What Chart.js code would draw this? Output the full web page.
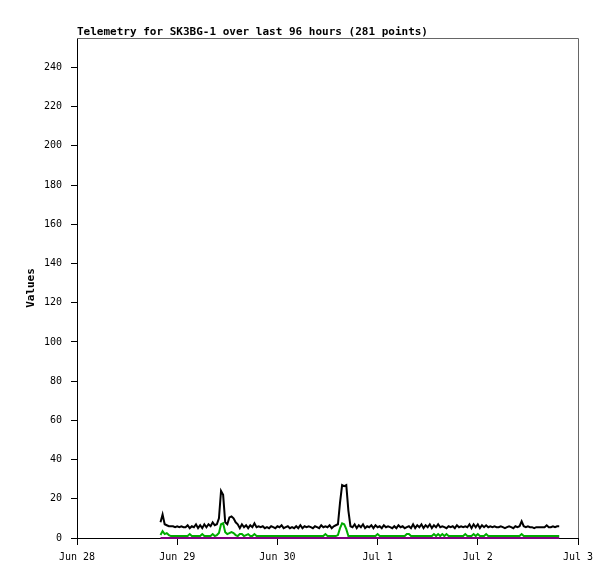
<!DOCTYPE html>
<html>
<head>
<meta charset="utf-8">
<script src="https://cdn.jsdelivr.net/npm/chart.js@4/dist/chart.umd.min.js"></script>
<style>
  html, body { margin: 0; padding: 0; background: #fff; }
  #wrap { width: 615px; height: 579px; }
</style>
</head>
<body>
<div id="wrap"><canvas id="telemetry" width="615" height="579"></canvas></div>
<script>
const chartTitle = 'Telemetry for SK3BG-1 over last 96 hours (281 points)'
const dayLabels = ['Jun 28', 'Jun 29', 'Jun 30', 'Jul 1', 'Jul 2', 'Jul 3']
const yTicks = { min: 0, max: 255, step: 20 }

// samples start at Jun 28 20:00, one every half hour
const startHour = 20
const stepHours = 0.5

const blackValues = [
  8, 12, 7, 6.5, 6, 6, 6, 5.5, 6, 5.5, 6, 5.5, 5.5, 6.5, 5, 6, 5.5, 7, 5, 6.5,
  5, 7, 5.5, 7, 6, 8, 6.5, 7, 10, 24, 22, 8, 7, 10.5, 11, 10, 8, 7, 5, 7,
  5.5, 6.5, 5, 6.5, 5.5, 7.5, 5.5, 6, 5.5, 6, 5, 5.5, 5, 6, 5.5, 5, 6, 5.5, 6.5, 5,
  5.5, 6, 5, 5.5, 5, 6, 5, 6.5, 5, 6, 5.5, 6, 5.5, 5, 6, 5.5, 5, 6.5, 5.5, 6,
  5.5, 6.5, 5, 6, 6.5, 7, 18, 27, 26.5, 27, 14, 6, 5.5, 7, 5, 6.5, 5.5, 7, 5, 6,
  5.5, 6.5, 5, 6.5, 5.5, 6, 5, 6.5, 5.5, 6, 5.5, 5, 6, 5, 6.5, 5.5, 6, 5, 5.5, 6,
  5, 7, 5, 6.5, 5.5, 7, 5, 6.5, 5.5, 7, 5, 6.5, 5.5, 7, 5.5, 6, 5.5, 5, 6, 5.5,
  6, 5, 6.5, 5.5, 6, 5.5, 6, 5.5, 7, 5, 7, 5.5, 7, 5, 6.5, 5.5, 6.5, 5.5, 6, 5.5,
  6, 5.5, 5.5, 6, 5.5, 5, 5.5, 6, 5.5, 5, 6, 5.5, 6, 8.5, 6, 5.5, 6, 5.5, 5.5, 5,
  5.5, 5.5, 5.5, 5.5, 5.5, 6.5, 5.5, 5.5, 6, 5.5, 6, 6
]

const greenValues = [
  1.5, 3.5, 2, 2.5, 1.5, 1, 1, 1, 1, 1, 1, 1, 1, 1, 2, 1, 1, 1, 1, 1,
  2, 1, 1, 1, 1, 2, 1, 1.5, 2.5, 7, 7.5, 3, 2, 2.5, 3, 2.5, 1.5, 1, 2, 2,
  1, 1.5, 2, 1, 1, 2, 1, 1, 1, 1, 1, 1, 1, 1, 1, 1, 1, 1, 1, 1,
  1, 1, 1, 1, 1, 1, 1, 1, 1, 1, 1, 1, 1, 1, 1, 1, 1, 1, 1, 2,
  1, 1, 1, 1, 1, 1.5, 5, 7.5, 7, 4.5, 1, 1, 1, 1, 1, 1, 1, 1, 1, 1,
  1, 1, 1, 1, 2, 1, 1, 1, 1, 1, 1, 1, 1, 1, 1, 1, 1, 1, 2, 2,
  1, 1, 1, 1, 1, 1, 1, 1, 1, 1, 1, 2, 1, 2, 1, 2, 1, 2, 1, 1,
  1, 1, 1, 1, 1, 1, 2, 1, 1, 1, 2, 1, 2, 1, 1, 1, 2, 1, 1, 1,
  1, 1, 1, 1, 1, 1, 1, 1, 1, 1, 1, 1, 1, 2, 1, 1, 1, 1, 1, 1,
  1, 1, 1, 1, 1, 1, 1, 1, 1, 1, 1, 1
]

const purpleValues = blackValues.map(() => 0)

const hours = blackValues.map((_, i) => startHour + i * stepHours)
const toPoints = vals => vals.map((v, i) => ({ x: hours[i], y: v }))

const frame = {
  id: 'frame',
  afterDraw(chart) {
    const { ctx, chartArea: a } = chart
    ctx.save()
    ctx.lineWidth = 1
    ctx.strokeStyle = '#666'
    ctx.beginPath()
    ctx.moveTo(a.left, a.top + 0.5)
    ctx.lineTo(a.right + 0.5, a.top + 0.5)
    ctx.lineTo(a.right + 0.5, a.bottom)
    ctx.stroke()
    ctx.fillStyle = '#000'
    ctx.font = "bold 11px 'DejaVu Sans Mono', monospace"
    ctx.textBaseline = 'alphabetic'
    ctx.fillText(chartTitle, a.left, 35)
    ctx.restore()
  },
}

const tickFont = { family: "'DejaVu Sans Mono', monospace", size: 10 }

new Chart(document.getElementById('telemetry').getContext('2d'), {
  type: 'line',
  data: {
    datasets: [
      { label: 'black', data: toPoints(blackValues), borderColor: '#000', borderWidth: 2, pointRadius: 0, tension: 0, clip: 3 },
      { label: 'green', data: toPoints(greenValues), borderColor: '#00aa00', borderWidth: 2, pointRadius: 0, tension: 0, clip: 3 },
      { label: 'purple', data: toPoints(purpleValues), borderColor: '#800080', borderWidth: 2, pointRadius: 0, tension: 0, clip: 3, order: -1 },
    ],
  },
  options: {
    responsive: false,
    animation: false,
    events: [],
    layout: { padding: { left: 0, right: 37, top: 38, bottom: 0 } },
    plugins: { legend: { display: false }, title: { display: false }, tooltip: { enabled: false } },
    scales: {
      x: {
        type: 'linear',
        min: 0,
        max: 120,
        afterFit: s => { s.height = 41 },
        grid: { drawOnChartArea: false, drawTicks: true, tickLength: 7, color: '#000' },
        border: { display: true, color: '#000', width: 1 },
        ticks: {
          stepSize: 24,
          maxRotation: 0,
          autoSkip: false,
          color: '#000',
          font: tickFont,
          padding: 6,
          callback: v => dayLabels[v / 24] ?? '',
        },
      },
      y: {
        min: yTicks.min,
        max: yTicks.max,
        afterFit: s => { s.width = 77 },
        grid: { drawOnChartArea: false, drawTicks: true, tickLength: 6, color: '#000' },
        border: { display: true, color: '#000', width: 1 },
        ticks: { stepSize: yTicks.step, includeBounds: false, color: '#000', font: tickFont, padding: 9 },
        title: {
          display: true,
          text: 'Values',
          color: '#000',
          font: { family: "'DejaVu Sans Mono', monospace", size: 11, weight: 'bold' },
          padding: { top: 25, bottom: 0 },
        },
      },
    },
  },
  plugins: [frame],
})
</script>
</body>
</html>
